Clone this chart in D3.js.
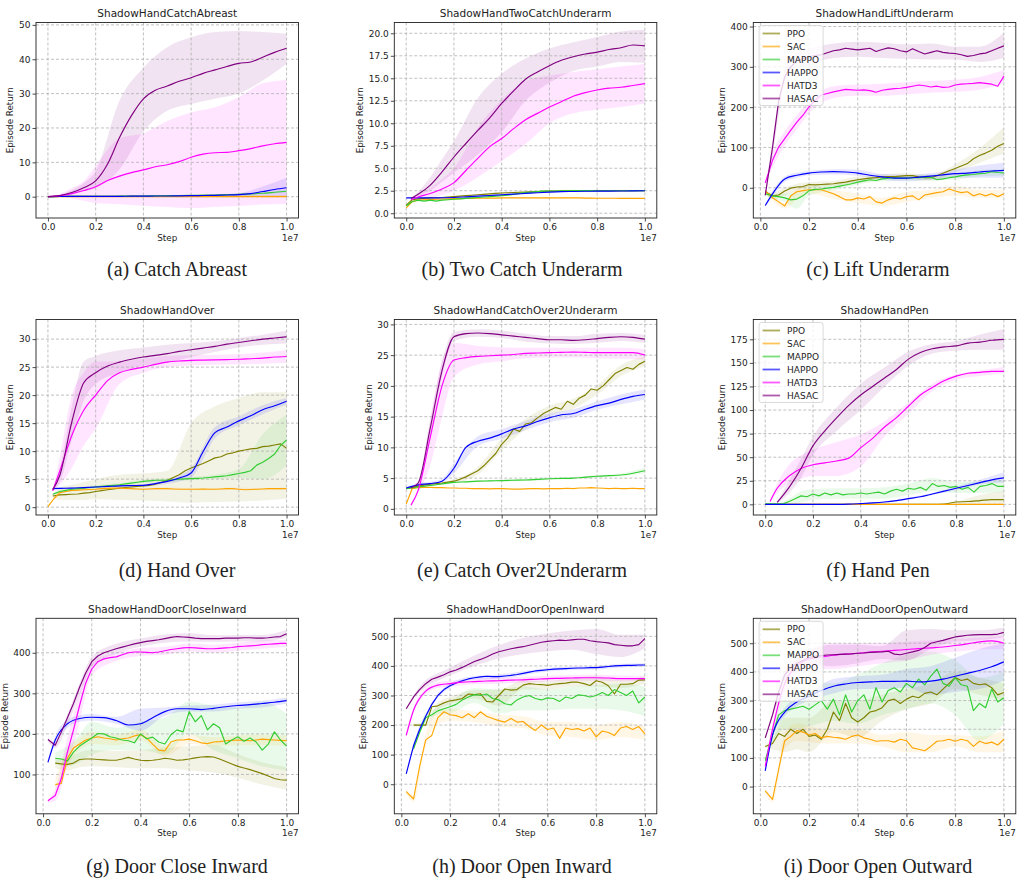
<!DOCTYPE html>
<html>
<head>
<meta charset="utf-8">
<script src="https://cdn.jsdelivr.net/npm/d3@7/dist/d3.min.js"></script>
<style>
  body { margin: 0; background: #fff; }
  svg { display: block; }
  text { font-family: "DejaVu Sans", sans-serif; fill: #222; }
</style>
</head>
<body>
<svg id="chart" width="1017" height="880"></svg>
<script>
// ---- step grids (units of 1e7 env steps) ----
const S21 = [0, 0.05, 0.1, 0.15, 0.2, 0.25, 0.3, 0.35, 0.4, 0.45, 0.5, 0.55, 0.6, 0.65, 0.7, 0.75, 0.8, 0.85, 0.9, 0.95, 1.0];
const T21 = [0.02, 0.05, 0.1, 0.15, 0.2, 0.25, 0.3, 0.35, 0.4, 0.45, 0.5, 0.55, 0.6, 0.65, 0.7, 0.75, 0.8, 0.85, 0.9, 0.95, 1.0];
const S41 = [0, 0.025, 0.05, 0.075, 0.1, 0.125, 0.15, 0.175, 0.2, 0.225, 0.25, 0.275, 0.3, 0.325, 0.35, 0.375, 0.4, 0.425, 0.45, 0.475, 0.5, 0.525, 0.55, 0.575, 0.6, 0.625, 0.65, 0.675, 0.7, 0.725, 0.75, 0.775, 0.8, 0.825, 0.85, 0.875, 0.9, 0.925, 0.95, 0.975, 1.0];
const T40 = [0.02, 0.05, 0.075, 0.1, 0.125, 0.15, 0.175, 0.2, 0.225, 0.25, 0.275, 0.3, 0.325, 0.35, 0.375, 0.4, 0.425, 0.45, 0.475, 0.5, 0.525, 0.55, 0.575, 0.6, 0.625, 0.65, 0.675, 0.7, 0.725, 0.75, 0.775, 0.8, 0.825, 0.85, 0.875, 0.9, 0.925, 0.95, 0.975, 1.0];
// band grids
const B13 = [0, 0.05, 0.1, 0.15, 0.2, 0.3, 0.4, 0.5, 0.6, 0.7, 0.8, 0.9, 1.0];
const TB13 = [0.02, 0.05, 0.1, 0.15, 0.2, 0.3, 0.4, 0.5, 0.6, 0.7, 0.8, 0.9, 1.0];

const algos = ['PPO', 'SAC', 'MAPPO', 'HAPPO', 'HATD3', 'HASAC'];
const xTicks = [0, 0.2, 0.4, 0.6, 0.8, 1.0];

// ---- (a) ShadowHandCatchAbreast ----
const yTicksA = [0, 10, 20, 30, 40, 50];
const a_PPO = [0, 0.1, 0.1, 0.1, 0.1, 0.1, 0.1, 0.1, 0.1, 0.1, 0.1, 0.1, 0.1, 0.1, 0.1, 0.1, 0.1, 0.1, 0.1, 0.1, 0.1];
const a_PPO_lo = [0, 0, 0, 0, 0, 0, 0, 0, 0, 0, 0, 0, 0];
const a_PPO_hi = [0.1, 0.2, 0.2, 0.2, 0.2, 0.2, 0.2, 0.2, 0.2, 0.2, 0.2, 0.2, 0.2];
const a_SAC = [0, 0, 0, 0, 0, 0, 0, 0, 0, 0, 0, 0, 0, 0, 0, 0, 0, 0, 0, 0, 0];
const a_MAPPO = [0, 0.1, 0.1, 0.1, 0.1, 0.1, 0.15, 0.2, 0.2, 0.25, 0.3, 0.35, 0.4, 0.45, 0.5, 0.6, 0.7, 0.8, 1.0, 1.3, 1.6];
const a_MAPPO_lo = [0, 0, 0, 0, 0, 0, 0, 0.1, 0.2, 0.3, 0.4, 0.7, 1.1];
const a_MAPPO_hi = [0.1, 0.2, 0.2, 0.2, 0.2, 0.3, 0.3, 0.4, 0.6, 0.7, 1.0, 1.3, 2.1];
const a_HAPPO = [0, 0.1, 0.1, 0.1, 0.1, 0.1, 0.1, 0.15, 0.15, 0.2, 0.2, 0.25, 0.3, 0.35, 0.4, 0.5, 0.6, 0.9, 1.5, 2.1, 2.6];
const a_HAPPO_lo = [0, 0, 0, 0, 0, 0, 0, 0.1, 0.2, 0.2, 0.3, 0.5, 0.5];
const a_HAPPO_hi = [0.1, 0.2, 0.2, 0.2, 0.2, 0.2, 0.3, 0.3, 0.4, 0.6, 1.0, 3.0, 5.5];
const a_HATD3 = [0, 0.3, 0.9, 1.8, 2.9, 4.7, 6.0, 7.0, 7.8, 8.7, 9.3, 10.2, 11.5, 12.4, 12.8, 12.9, 13.4, 14.0, 14.8, 15.4, 15.8];
const a_HATD3_lo = [0, 0, -0.5, -1.2, -1.8, -2.2, -2.6, -3.0, -3.3, -3.0, -2.7, -2.3, -2.1];
const a_HATD3_hi = [0, 0.8, 2.5, 4.5, 9, 17, 18.5, 22, 24.5, 26, 29, 33, 34];
const a_HASAC = [0, 0.3, 1.2, 2.6, 4.6, 9.5, 17.2, 23.6, 28.5, 31.0, 32.2, 33.6, 34.6, 35.9, 36.9, 37.9, 38.8, 39.2, 40.6, 42.0, 43.2];
const a_HASAC_lo = [0, 0.1, 0.6, 1.5, 2.5, 8, 19, 25, 27, 28.5, 30, 33.8, 38.7];
const a_HASAC_hi = [0, 0.6, 1.9, 4.0, 7.5, 28, 37.5, 43.5, 46.4, 47.9, 48.2, 47.9, 47.4];

// ---- (b) ShadowHandTwoCatchUnderarm ----
const yTicksB = [0, 2.5, 5, 7.5, 10, 12.5, 15, 17.5, 20];
const b_PPO = [0.9, 1.5, 1.6, 1.65, 1.7, 1.72, 1.75, 1.8, 1.85, 1.9, 1.95, 2.0, 2.05, 2.1, 2.15, 2.2, 2.25, 2.28, 2.3, 2.33, 2.35, 2.38, 2.4, 2.43, 2.45, 2.46, 2.47, 2.48, 2.5, 2.5, 2.5, 2.5, 2.5, 2.5, 2.5, 2.5, 2.5, 2.5, 2.5, 2.5, 2.5];
const b_PPO_lo = [0.85, 1.55, 1.62, 1.7, 1.78, 1.95, 2.15, 2.28, 2.38, 2.44, 2.44, 2.44, 2.44];
const b_PPO_hi = [0.95, 1.65, 1.78, 1.8, 1.92, 2.15, 2.35, 2.42, 2.52, 2.56, 2.56, 2.56, 2.56];
const b_SAC = [0.6, 1.3, 1.45, 1.5, 1.52, 1.55, 1.58, 1.6, 1.62, 1.63, 1.65, 1.65, 1.66, 1.67, 1.68, 1.68, 1.7, 1.7, 1.7, 1.7, 1.7, 1.7, 1.7, 1.7, 1.7, 1.7, 1.7, 1.7, 1.7, 1.7, 1.68, 1.68, 1.67, 1.67, 1.66, 1.66, 1.65, 1.65, 1.65, 1.65, 1.65];
const b_SAC_lo = [0.55, 1.4, 1.45, 1.5, 1.55, 1.6, 1.63, 1.65, 1.65, 1.65, 1.63, 1.61, 1.6];
const b_SAC_hi = [0.65, 1.6, 1.65, 1.7, 1.75, 1.75, 1.77, 1.75, 1.75, 1.75, 1.73, 1.71, 1.7];
const b_MAPPO = [0.8, 1.3, 1.45, 1.35, 1.45, 1.35, 1.45, 1.5, 1.55, 1.6, 1.65, 1.7, 1.75, 1.8, 1.85, 1.9, 1.95, 2.0, 2.1, 2.2, 2.3, 2.35, 2.4, 2.45, 2.45, 2.47, 2.5, 2.5, 2.52, 2.52, 2.52, 2.52, 2.5, 2.5, 2.5, 2.5, 2.5, 2.5, 2.5, 2.5, 2.5];
const b_MAPPO_lo = [0.75, 1.3, 1.3, 1.4, 1.5, 1.7, 1.9, 2.2, 2.4, 2.45, 2.45, 2.45, 2.45];
const b_MAPPO_hi = [0.85, 1.55, 1.55, 1.6, 1.7, 1.9, 2.1, 2.4, 2.55, 2.6, 2.6, 2.6, 2.6];
const b_HAPPO = [1.7, 1.7, 1.7, 1.72, 1.75, 1.82, 1.9, 1.97, 2.05, 2.12, 2.2, 2.28, 2.35, 2.4, 2.42, 2.44, 2.45, 2.46, 2.47, 2.48, 2.5];
const b_HATD3 = [1.5, 1.8, 2.2, 2.7, 3.4, 4.75, 6.1, 7.4, 8.3, 9.4, 10.4, 11.1, 11.8, 12.4, 13.0, 13.4, 13.7, 13.9, 14.0, 14.2, 14.4];
const b_HATD3_lo = [1.45, 1.6, 1.7, 2.0, 2.5, 4.0, 5.8, 7.7, 10, 11.1, 11.5, 11.8, 12.2];
const b_HATD3_hi = [1.55, 2.0, 2.8, 3.8, 5, 9.5, 12.6, 14.7, 15.3, 15.7, 16, 16.3, 16.6];
const b_HASAC = [1.65, 2.1, 3.1, 4.6, 6.25, 7.75, 9.2, 10.6, 12.2, 13.6, 14.9, 15.7, 16.4, 17.0, 17.4, 17.7, 17.9, 18.2, 18.4, 18.7, 18.6];
const b_HASAC_lo = [1.6, 1.9, 2.5, 3.5, 4.5, 6.5, 9, 12.5, 14.5, 15.8, 16.3, 16.8, 16.7];
const b_HASAC_hi = [1.7, 2.4, 4, 6, 8, 12.8, 15.5, 17.2, 18.3, 19, 19.6, 20.2, 20.4];

// ---- (c) ShadowHandLiftUnderarm ----
const yTicksC = [0, 100, 200, 300, 400];
const c_PPO = [-10, -20, -18, -8, -1, 2, 3, 8, 7, 8, 9, 10, 12, 14, 17, 20, 22, 24, 25, 27, 28, 28, 29, 30, 30, 27, 25, 25, 30, 36, 42, 48, 54, 60, 72, 80, 86, 93, 103, 110];
const c_PPO_lo = [-14, -28, -20, -8, 2, 3, 12, 20, 22, 18, 38, 62, 85];
const c_PPO_hi = [-6, -12, 0, 10, 14, 17, 28, 34, 36, 32, 58, 98, 150];
const c_SAC = [-8, -25, -35, -45, -20, -10, -7, -5, -5, -5, -10, -15, -22, -30, -30, -25, -28, -22, -35, -38, -30, -25, -28, -22, -20, -30, -18, -15, -12, -10, -3, -8, -12, -10, -20, -15, -20, -15, -22, -15];
const c_SAC_lo = [-12, -32, -52, -30, -15, -27, -38, -45, -35, -25, -20, -25, -25];
const c_SAC_hi = [-4, -18, -38, -2, 5, -5, -15, -25, -10, -5, 5, -5, -5];
const c_MAPPO = [-15, -20, -22, -25, -30, -28, -20, -7, -4, -3, -1, 1, 4, 7, 10, 14, 17, 20, 18, 22, 24, 25, 24, 24, 25, 25, 26, 26, 20, 22, 25, 27, 30, 32, 33, 35, 36, 40, 38, 37];
const c_MAPPO_lo = [-18, -28, -35, -52, -20, -6, 8, 16, 18, 18, 20, 28, 30];
const c_MAPPO_hi = [-12, -15, -15, -12, 5, 8, 20, 28, 30, 32, 34, 44, 46];
const c_HAPPO = [-44, -15, 22, 31, 36.5, 39, 40, 39, 36.5, 31, 27, 24, 24, 26.5, 29, 32, 35, 36.5, 39, 41.5, 43];
const c_HAPPO_lo = [-48, -22, 15, 25, 31, 33, 30, 20, 16, 20, 25, 25, 25];
const c_HAPPO_hi = [-40, -8, 28, 37, 42, 46, 45, 34, 32, 36, 45, 55, 62];
const c_HATD3 = [12, 68, 101, 122, 143, 163, 180, 201, 217, 230, 234, 238, 241, 244, 243, 242, 243, 241, 237, 242, 244, 246, 247, 249, 252, 255, 253, 250, 252, 249, 250, 255, 257, 258, 259, 261, 259, 257, 252, 277];
const c_HATD3_lo = [8, 50, 105, 145, 185, 222, 228, 228, 232, 236, 238, 243, 260];
const c_HATD3_hi = [16, 85, 140, 180, 215, 252, 256, 258, 262, 265, 268, 275, 292];
const c_HASAC = [-19, 100, 215, 275, 300, 315, 320, 325, 328, 330, 335, 340, 342, 346, 344, 342, 344, 346, 338, 343, 347, 345, 340, 337, 345, 338, 332, 336, 340, 336, 334, 333, 330, 326, 328, 332, 334, 340, 346, 352];
const c_HASAC_lo = [-25, 80, 255, 295, 305, 322, 325, 322, 320, 318, 318, 312, 322];
const c_HASAC_hi = [-12, 120, 295, 335, 345, 358, 362, 360, 356, 358, 350, 350, 385];

// ---- (d) ShadowHandOver ----
const yTicksD = [0, 5, 10, 15, 20, 25, 30];
const d_PPO = [2.0, 2.2, 2.25, 2.3, 2.35, 2.5, 2.6, 2.8, 2.95, 3.1, 3.25, 3.4, 3.5, 3.6, 3.7, 3.8, 3.9, 4.1, 4.4, 4.8, 5.3, 5.8, 6.5, 7.0, 7.4, 7.8, 8.3, 8.8, 9.0, 9.5, 9.7, 10.0, 10.2, 10.4, 10.5, 10.8, 10.9, 11.1, 11.3, 10.5];
const d_PPO_lo = [1.8, 1.3, 1.3, 1.3, 1.4, 1.3, 1.2, 1.0, 0.8, 0.9, 1.0, 1.2, 1.5];
const d_PPO_hi = [2.2, 3.5, 4.0, 4.5, 5.0, 5.8, 6.0, 6.5, 15, 18, 19.5, 20.5, 20.5];
const d_SAC = [0.1, 1.5, 2.6, 2.8, 3.0, 3.05, 3.1, 3.15, 3.2, 3.3, 3.35, 3.4, 3.4, 3.35, 3.3, 3.25, 3.2, 3.25, 3.3, 3.3, 3.3, 3.25, 3.2, 3.2, 3.2, 3.2, 3.25, 3.2, 3.2, 3.25, 3.3, 3.3, 3.2, 3.1, 3.15, 3.2, 3.25, 3.3, 3.3, 3.3, 3.3];
const d_SAC_lo = [0.1, 2.3, 2.8, 2.9, 3.0, 3.2, 3.0, 3.1, 3.0, 3.0, 3.1, 3.0, 3.1];
const d_SAC_hi = [0.1, 2.9, 3.2, 3.4, 3.4, 3.6, 3.4, 3.5, 3.4, 3.4, 3.5, 3.4, 3.5];
const d_MAPPO = [2.3, 2.8, 3.0, 3.2, 3.3, 3.4, 3.5, 3.6, 3.7, 3.8, 3.9, 4.0, 4.15, 4.3, 4.45, 4.6, 4.7, 4.8, 4.8, 4.8, 4.9, 5.0, 5.05, 5.1, 5.15, 5.2, 5.3, 5.4, 5.5, 5.6, 5.8, 6.0, 6.2, 6.5, 7.5, 8.0, 8.7, 9.5, 11.0, 12.0];
const d_MAPPO_lo = [2.2, 2.5, 2.9, 3.1, 3.3, 3.7, 4.3, 4.5, 4.8, 5.0, 5.2, 5.0, 7.5];
const d_MAPPO_hi = [2.4, 3.1, 3.5, 3.7, 3.9, 4.3, 4.9, 5.1, 5.4, 5.8, 6.8, 13, 16.5];
const d_HAPPO = [3.3, 3.35, 3.4, 3.5, 3.6, 3.7, 3.8, 3.85, 3.9, 4.2, 4.6, 5.2, 6.1, 9.9, 13.3, 14.3, 15.4, 16.3, 17.4, 18.1, 18.9];
const d_HAPPO_lo = [3.2, 3.2, 3.3, 3.4, 3.5, 3.6, 3.7, 4.2, 5.3, 12.3, 14.6, 16.6, 18.3];
const d_HAPPO_hi = [3.4, 3.5, 3.5, 3.6, 3.7, 4.0, 4.1, 5.0, 7.0, 14.3, 16.2, 18.2, 19.5];
const d_HATD3 = [2.9, 6.5, 12.8, 17.3, 20.0, 22.6, 24.0, 24.6, 25.0, 25.5, 25.9, 26.1, 26.2, 26.25, 26.3, 26.35, 26.4, 26.5, 26.6, 26.8, 26.9];
const d_HATD3_lo = [2.8, 4, 7, 11, 14, 22, 24, 25, 25.3, 25.4, 25.5, 25.6, 25.8];
const d_HATD3_hi = [3.0, 9, 20, 24, 26, 26, 26.5, 27, 27.1, 27.2, 27.3, 27.6, 28];
const d_HASAC = [3.1, 5.7, 15.2, 22.2, 24.0, 25.2, 25.9, 26.4, 26.8, 27.1, 27.4, 27.8, 28.1, 28.4, 28.7, 29.1, 29.4, 29.7, 30.0, 30.2, 30.4];
const d_HASAC_lo = [2.9, 4.5, 12, 19, 22, 24, 25.3, 25.8, 26.8, 27.7, 28.5, 29.0, 29.2];
const d_HASAC_hi = [3.3, 7, 18, 26, 27, 28, 28.5, 29, 29.3, 29.6, 30.2, 30.8, 31.5];

// ---- (e) ShadowHandCatchOver2Underarm ----
const yTicksE = [0, 5, 10, 15, 20, 25, 30];
const e_PPO = [3.3, 3.5, 3.7, 3.85, 4.0, 4.1, 4.2, 4.35, 4.5, 4.8, 5.2, 5.7, 6.2, 7.0, 8.0, 9.0, 10.5, 11.5, 13.0, 12.6, 13.8, 14.0, 14.8, 15.5, 16.0, 16.5, 16.2, 17.5, 17.0, 18.0, 18.5, 19.5, 19.3, 20.0, 21.0, 22.0, 22.5, 23.0, 22.7, 23.5, 24.0];
const e_PPO_lo = [3.2, 3.5, 3.8, 4.0, 4.2, 5.6, 9.5, 13.0, 15.2, 16.3, 18.6, 21.6, 23.2];
const e_PPO_hi = [3.4, 3.9, 4.2, 4.4, 4.8, 6.8, 11.5, 14.6, 16.8, 17.9, 20.1, 23.4, 24.8];
const e_SAC = [0.8, 3.3, 3.45, 3.5, 3.5, 3.45, 3.45, 3.4, 3.4, 3.35, 3.35, 3.3, 3.3, 3.3, 3.25, 3.3, 3.3, 3.25, 3.2, 3.2, 3.25, 3.3, 3.3, 3.25, 3.3, 3.3, 3.3, 3.35, 3.3, 3.4, 3.4, 3.45, 3.4, 3.35, 3.3, 3.35, 3.3, 3.3, 3.35, 3.3, 3.3];
const e_MAPPO = [3.3, 3.55, 3.8, 4.05, 4.3, 4.4, 4.5, 4.55, 4.6, 4.65, 4.7, 4.8, 4.9, 4.95, 5.0, 5.15, 5.3, 5.4, 5.5, 5.8, 6.2];
const e_MAPPO_lo = [3.2, 3.4, 3.7, 3.9, 4.15, 4.35, 4.45, 4.55, 4.7, 4.8, 5.1, 5.3, 5.8];
const e_MAPPO_hi = [3.4, 3.7, 3.95, 4.2, 4.45, 4.65, 4.75, 4.85, 5.1, 5.2, 5.5, 5.8, 6.7];
const e_HAPPO = [3.4, 3.9, 4.1, 4.5, 6.6, 10.0, 11.0, 11.5, 12.2, 13.0, 13.5, 14.2, 14.8, 15.3, 15.5, 16.2, 16.8, 17.2, 17.8, 18.3, 18.6];
const e_HAPPO_lo = [3.3, 3.6, 3.8, 4.2, 5.8, 10.2, 11.4, 12.8, 14.1, 14.8, 16.1, 17.0, 17.8];
const e_HAPPO_hi = [3.5, 4.2, 4.4, 4.9, 7.4, 11.8, 13.0, 14.3, 15.5, 16.2, 17.5, 18.6, 19.4];
const e_HATD3 = [0.6, 3.0, 11.5, 20, 24.2, 24.6, 24.8, 24.9, 25.0, 25.1, 25.3, 25.35, 25.4, 25.45, 25.5, 25.45, 25.4, 25.4, 25.4, 25.4, 25.0];
const e_HATD3_lo = [0.5, 2.5, 7, 15, 21.5, 23.5, 24, 24.5, 24.6, 24.6, 24.5, 24.4, 24.3];
const e_HATD3_hi = [0.7, 3.5, 14, 24, 27, 26.5, 26.3, 26.2, 26.2, 26.2, 26.2, 26.2, 26.0];
const e_HASAC = [3.4, 4.2, 13, 22.5, 28, 28.5, 28.6, 28.5, 28.3, 28.1, 27.9, 27.7, 27.5, 27.5, 27.4, 27.5, 27.7, 27.9, 28.0, 27.9, 27.6];
const e_HASAC_lo = [3.3, 3.9, 11.5, 21.5, 27.3, 28.0, 27.8, 27.2, 26.9, 26.8, 27.0, 27.3, 27.0];
const e_HASAC_hi = [3.5, 4.5, 14.5, 24, 28.8, 29.2, 29.0, 28.5, 28.1, 28.1, 28.5, 28.6, 28.3];

// ---- (f) ShadowHandPen ----
const yTicksF = [0, 25, 50, 75, 100, 125, 150, 175];
const f_PPO = [0, 0, 0, 0, 0, 0, 0, 0, 0, 0, 0, 0, 0, 0, 0, 0.2, 2.5, 3, 4, 5, 5];
const f_PPO_lo = [0, 0, 0, 0, 0, 0, 0, 0, 0, 0, 0, 0, 0];
const f_PPO_hi = [0, 0, 0, 0, 0, 0, 0, 0, 0, 0, 3, 10, 14];
const f_SAC = [0, 0, 0, 0, 0, 0, 0, 0, 0, 0, 0, 0, 0, 0, 0, 0, 0, 0, 0, 0, 0];
const f_MAPPO = [0.5, 0.5, 0.5, 0.5, 3, 6, 9, 8, 11, 9, 12, 10, 12, 10, 11, 11, 12, 11, 12, 13, 11, 14, 16, 14, 17, 16, 18, 15, 22, 19, 20, 18, 19, 16, 18, 13, 19, 20, 22, 19, 19];
const f_MAPPO_lo = [0, 0, 0, 2, 5, 6, 6, 6, 10, 14, 12, 12, 13];
const f_MAPPO_hi = [1, 1, 6, 14, 16, 17, 17, 18, 22, 28, 24, 24, 26];
const f_HAPPO = [0, 0, 0, 0, 0, 0, 0, 0.2, 0.8, 1.5, 2.5, 4, 6, 8, 11, 14, 17, 20, 23, 26, 28];
const f_HAPPO_lo = [0, 0, 0, 0, 0, 0, 0, 2, 5, 10, 15, 21, 23];
const f_HAPPO_hi = [0, 0, 0, 0, 0, 0, 1, 3, 7, 12, 19, 26, 34];
const f_HATD3 = [3, 17, 30, 38, 42, 44, 46, 49, 60, 70, 82, 92, 104, 116, 124, 131, 136, 139, 140, 141, 141];
const f_HATD3_lo = [2, 12, 22, 27, 30, 30, 40, 72, 96, 120, 132, 136, 139];
const f_HATD3_hi = [4, 22, 42, 52, 58, 66, 74, 88, 108, 128, 138, 142, 146];
const f_HASAC = [null, 2, 18, 38, 62, 78, 92, 105, 116, 125, 134, 143, 154, 161, 165, 167, 168, 171, 172, 174, 175];
const f_HASAC_lo = [null, 1, 12, 28, 52, 78, 100, 125, 147, 160, 163, 164, 164];
const f_HASAC_hi = [null, 3, 25, 48, 72, 103, 128, 145, 162, 170, 173, 180, 186];

// ---- (g) ShadowHandDoorCloseInward ----
const yTicksG = [100, 200, 300, 400];
const g_PPO = [null, 128, 126, 125, 128, 137, 138, 138, 137, 136, 135, 135, 138, 142, 138, 135, 134, 135, 137, 140, 138, 135, 136, 138, 141, 143, 144, 143, 138, 132, 126, 120, 116, 112, 107, 102, 96, 90, 87, 86];
const g_PPO_lo = [null, 115, 110, 118, 120, 118, 115, 115, 110, 105, 92, 75, 62];
const g_PPO_hi = [null, 140, 140, 155, 160, 158, 160, 165, 170, 172, 150, 130, 118];
const g_SAC = [null, 75, 78, 140, 165, 175, 185, 190, 193, 190, 188, 185, 188, 190, 195, 198, 190, 175, 160, 158, 180, 185, 185, 187, 183, 178, 176, 180, 181, 183, 184, 185, 184, 183, 185, 187, 186, 185, 184, 183];
const g_SAC_lo = [null, 60, 120, 160, 175, 172, 185, 145, 175, 170, 172, 172, 170];
const g_SAC_hi = [null, 90, 160, 190, 205, 198, 210, 170, 198, 192, 196, 198, 196];
const g_MAPPO = [null, 140, 138, 133, 155, 170, 180, 190, 201, 200, 193, 190, 185, 183, 178, 200, 188, 192, 180, 175, 198, 210, 205, 255, 230, 245, 210, 225, 215, 175, 185, 193, 182, 190, 180, 160, 175, 205, 185, 170];
const g_MAPPO_lo = [null, 125, 120, 130, 150, 160, 160, 150, 200, 160, 140, 120, 110];
const g_MAPPO_hi = [null, 155, 170, 200, 230, 215, 230, 240, 280, 270, 265, 280, 250];
const g_HAPPO = [130, 185, 225, 238, 241, 240, 233, 222, 225, 240, 255, 262, 262, 260, 263, 267, 270, 272, 275, 278, 282];
const g_HAPPO_lo = [125, 175, 215, 230, 233, 225, 208, 245, 255, 255, 262, 265, 275];
const g_HAPPO_hi = [135, 195, 235, 246, 249, 242, 262, 265, 270, 272, 278, 282, 290];
const g_HATD3 = [35, 48, 90, 155, 210, 270, 325, 360, 378, 385, 388, 390, 395, 400, 402, 402, 401, 400, 402, 405, 408, 410, 412, 413, 412, 411, 410, 410, 411, 412, 413, 415, 416, 417, 418, 420, 421, 422, 423, 423];
const g_HATD3_lo = [30, 35, 120, 230, 345, 380, 392, 395, 403, 400, 405, 410, 415];
const g_HATD3_hi = [40, 65, 190, 300, 378, 400, 412, 415, 423, 420, 425, 430, 432];
const g_HASAC = [186, 172, 205, 240, 275, 315, 350, 378, 392, 400, 405, 410, 414, 418, 422, 425, 428, 430, 432, 435, 438, 440, 439, 438, 436, 435, 435, 435, 435, 436, 436, 436, 437, 437, 436, 436, 437, 439, 440, 447];
const g_HASAC_lo = [180, 165, 222, 295, 365, 398, 415, 425, 428, 427, 428, 428, 437];
const g_HASAC_hi = [192, 180, 248, 325, 390, 422, 435, 445, 448, 443, 444, 444, 457];

// ---- (h) ShadowHandDoorOpenInward ----
const yTicksH = [0, 100, 200, 300, 400, 500];
const h_PPO = [null, 200, 200, 200, 262, 265, 275, 282, 285, 290, 305, 303, 306, 280, 278, 300, 322, 318, 320, 335, 340, 338, 337, 334, 338, 340, 342, 345, 345, 340, 334, 350, 345, 333, 305, 338, 338, 340, 352, 353];
const h_PPO_lo = [null, 195, 195, 250, 270, 290, 265, 320, 320, 330, 330, 325, 340];
const h_PPO_hi = [null, 205, 205, 275, 295, 318, 320, 350, 348, 360, 365, 352, 365];
const h_SAC = [-25, -50, 60, 150, 165, 225, 245, 235, 232, 225, 238, 225, 245, 230, 222, 215, 210, 222, 210, 212, 195, 182, 200, 185, 190, 155, 190, 185, 188, 180, 190, 160, 180, 175, 165, 190, 195, 185, 195, 170];
const h_SAC_lo = [-35, -60, 130, 205, 215, 210, 195, 190, 165, 160, 150, 160, 150];
const h_SAC_hi = [-15, -40, 170, 245, 255, 245, 235, 230, 210, 210, 200, 210, 195];
const h_MAPPO = [null, 120, 175, 225, 235, 248, 255, 262, 270, 285, 295, 303, 300, 305, 290, 285, 272, 268, 285, 295, 300, 290, 285, 292, 290, 280, 295, 290, 302, 300, 295, 300, 310, 300, 320, 310, 300, 315, 275, 295];
const h_MAPPO_lo = [null, 110, 210, 235, 240, 275, 240, 250, 250, 255, 255, 250, 230];
const h_MAPPO_hi = [null, 130, 240, 260, 280, 325, 320, 330, 320, 330, 335, 340, 330];
const h_HAPPO = [35, 130, 185, 230, 270, 300, 320, 333, 342, 350, 356, 360, 363, 365, 364, 364, 366, 368, 371, 375, 379, 383, 385, 387, 389, 390, 391, 392, 393, 393, 394, 394, 396, 398, 400, 401, 402, 402, 403, 403];
const h_HAPPO_lo = [30, 120, 222, 292, 326, 354, 357, 368, 381, 386, 388, 395, 397];
const h_HAPPO_hi = [40, 140, 238, 308, 340, 366, 371, 382, 393, 398, 400, 407, 409];
const h_HATD3 = [165, 250, 315, 335, 340, 345, 347, 349, 350, 352, 353, 355, 357, 358, 359, 360, 360, 359, 357, 357, 357];
const h_HATD3_lo = [155, 240, 305, 325, 330, 338, 340, 343, 347, 349, 350, 348, 348];
const h_HATD3_hi = [175, 260, 325, 345, 350, 356, 360, 363, 367, 369, 370, 368, 366];
const h_HASAC = [255, 295, 320, 340, 355, 362, 370, 380, 386, 395, 405, 415, 422, 430, 440, 448, 453, 458, 462, 465, 470, 475, 480, 483, 485, 487, 486, 488, 490, 490, 485, 482, 480, 478, 472, 470, 468, 468, 472, 492];
const h_HASAC_lo = [250, 288, 328, 350, 368, 400, 425, 440, 450, 455, 440, 430, 460];
const h_HASAC_hi = [260, 302, 352, 375, 395, 435, 470, 495, 510, 520, 525, 505, 505];

// ---- (i) ShadowHandDoorOpenOutward ----
const yTicksI = [0, 100, 200, 300, 400, 500];
const i_PPO = [140, 150, 185, 175, 200, 185, 200, 175, 180, 165, 200, 260, 230, 290, 240, 225, 240, 260, 265, 275, 300, 305, 290, 305, 315, 310, 325, 330, 320, 340, 360, 380, 370, 375, 360, 355, 358, 345, 320, 328];
const i_PPO_lo = [135, 130, 120, 130, 120, 190, 170, 230, 270, 290, 340, 320, 300];
const i_PPO_hi = [145, 170, 240, 240, 240, 300, 300, 320, 340, 360, 400, 380, 360];
const i_SAC = [-15, -45, 60, 160, 175, 195, 190, 180, 185, 170, 175, 172, 170, 165, 175, 180, 170, 165, 158, 160, 160, 155, 165, 160, 135, 130, 125, 140, 158, 160, 165, 158, 165, 160, 140, 158, 150, 155, 145, 165];
const i_SAC_lo = [-25, -55, 130, 160, 155, 150, 150, 140, 120, 120, 140, 120, 120];
const i_SAC_hi = [-5, -35, 190, 220, 210, 195, 200, 180, 190, 180, 180, 175, 195];
const i_MAPPO = [90, 180, 250, 265, 270, 275, 280, 270, 285, 300, 270, 305, 250, 320, 260, 300, 320, 270, 345, 295, 335, 345, 330, 360, 345, 375, 355, 385, 410, 360, 350, 380, 355, 350, 265, 290, 275, 340, 295, 310];
const i_MAPPO_lo = [85, 150, 200, 200, 210, 230, 220, 250, 270, 290, 250, 160, 220];
const i_MAPPO_hi = [95, 210, 310, 330, 360, 360, 390, 430, 460, 470, 440, 380, 400];
const i_HAPPO = [55, 180, 260, 295, 315, 335, 350, 358, 363, 365, 367, 367, 368, 365, 368, 375, 385, 395, 405, 418, 435];
const i_HAPPO_lo = [50, 170, 245, 280, 300, 325, 340, 340, 345, 320, 330, 340, 370];
const i_HAPPO_hi = [60, 190, 275, 310, 330, 375, 385, 390, 410, 420, 450, 480, 500];
const i_HATD3 = [70, 200, 360, 420, 445, 452, 458, 462, 465, 469, 472, 475, 478, 481, 484, 487, 492, 498, 505, 508, 500];
const i_HATD3_lo = [65, 180, 330, 395, 410, 410, 420, 430, 440, 460, 470, 478, 480];
const i_HATD3_hi = [75, 220, 390, 445, 480, 500, 500, 500, 505, 510, 515, 520, 525];
const i_HASAC = [170, 250, 330, 390, 415, 430, 440, 450, 454, 457, 459, 460, 461, 462, 463, 465, 466, 468, 469, 470, 472, 462, 460, 465, 470, 475, 485, 500, 505, 510, 516, 522, 525, 528, 529, 530, 530, 530, 532, 538];
const i_HASAC_lo = [165, 240, 370, 410, 425, 420, 430, 445, 440, 480, 505, 510, 520];
const i_HASAC_hi = [175, 260, 410, 450, 475, 495, 495, 490, 545, 550, 545, 545, 555];

// ---- styling ----
const colors = { PPO: '#808000', SAC: '#ffa500', MAPPO: '#32cd32', HAPPO: '#0000ff', HATD3: '#ff00ff', HASAC: '#800080' };

// series entries: [name, steps, values, bandSteps, lo, hi]
const panels = [
  { title: 'ShadowHandCatchAbreast', caption: '(a) Catch Abreast', yDomain: [-6.2, 50.7], yTicks: yTicksA, fmt: 'd',
    series: [['PPO', S21, a_PPO, B13, a_PPO_lo, a_PPO_hi], ['SAC', S21, a_SAC], ['MAPPO', S21, a_MAPPO, B13, a_MAPPO_lo, a_MAPPO_hi],
             ['HAPPO', S21, a_HAPPO, B13, a_HAPPO_lo, a_HAPPO_hi], ['HATD3', S21, a_HATD3, B13, a_HATD3_lo, a_HATD3_hi], ['HASAC', S21, a_HASAC, B13, a_HASAC_lo, a_HASAC_hi]] },
  { title: 'ShadowHandTwoCatchUnderarm', caption: '(b) Two Catch Underarm', yDomain: [-0.53, 21.2], yTicks: yTicksB, fmt: '.1f',
    series: [['PPO', S41, b_PPO, B13, b_PPO_lo, b_PPO_hi], ['SAC', S41, b_SAC, B13, b_SAC_lo, b_SAC_hi], ['MAPPO', S41, b_MAPPO, B13, b_MAPPO_lo, b_MAPPO_hi],
             ['HAPPO', S21, b_HAPPO], ['HATD3', T21, b_HATD3, TB13, b_HATD3_lo, b_HATD3_hi], ['HASAC', T21, b_HASAC, TB13, b_HASAC_lo, b_HASAC_hi]] },
  { title: 'ShadowHandLiftUnderarm', caption: '(c) Lift Underarm', yDomain: [-75, 410], yTicks: yTicksC, fmt: 'd', legend: true,
    series: [['PPO', T40, c_PPO, TB13, c_PPO_lo, c_PPO_hi], ['SAC', T40, c_SAC, TB13, c_SAC_lo, c_SAC_hi], ['MAPPO', T40, c_MAPPO, TB13, c_MAPPO_lo, c_MAPPO_hi],
             ['HAPPO', T21, c_HAPPO, TB13, c_HAPPO_lo, c_HAPPO_hi], ['HATD3', T40, c_HATD3, TB13, c_HATD3_lo, c_HATD3_hi], ['HASAC', T40, c_HASAC, TB13, c_HASAC_lo, c_HASAC_hi]] },
  { title: 'ShadowHandOver', caption: '(d) Hand Over', yDomain: [-1.4, 33.5], yTicks: yTicksD, fmt: 'd',
    series: [['PPO', T40, d_PPO, TB13, d_PPO_lo, d_PPO_hi], ['SAC', S41, d_SAC, B13, d_SAC_lo, d_SAC_hi], ['MAPPO', T40, d_MAPPO, TB13, d_MAPPO_lo, d_MAPPO_hi],
             ['HAPPO', T21, d_HAPPO, TB13, d_HAPPO_lo, d_HAPPO_hi], ['HATD3', T21, d_HATD3, TB13, d_HATD3_lo, d_HATD3_hi], ['HASAC', T21, d_HASAC, TB13, d_HASAC_lo, d_HASAC_hi]] },
  { title: 'ShadowHandCatchOver2Underarm', caption: '(e) Catch Over2Underarm', yDomain: [-1.0, 30.8], yTicks: yTicksE, fmt: 'd',
    series: [['PPO', S41, e_PPO, B13, e_PPO_lo, e_PPO_hi], ['SAC', S41, e_SAC], ['MAPPO', S21, e_MAPPO, B13, e_MAPPO_lo, e_MAPPO_hi],
             ['HAPPO', S21, e_HAPPO, B13, e_HAPPO_lo, e_HAPPO_hi], ['HATD3', T21, e_HATD3, TB13, e_HATD3_lo, e_HATD3_hi], ['HASAC', T21, e_HASAC, TB13, e_HASAC_lo, e_HASAC_hi]] },
  { title: 'ShadowHandPen', caption: '(f) Hand Pen', yDomain: [-11.3, 196], yTicks: yTicksF, fmt: 'd', legend: true,
    series: [['PPO', S21, f_PPO, B13, f_PPO_lo, f_PPO_hi], ['SAC', S21, f_SAC], ['MAPPO', S41, f_MAPPO, B13, f_MAPPO_lo, f_MAPPO_hi],
             ['HAPPO', S21, f_HAPPO, B13, f_HAPPO_lo, f_HAPPO_hi], ['HATD3', T21, f_HATD3, TB13, f_HATD3_lo, f_HATD3_hi], ['HASAC', S21, f_HASAC, B13, f_HASAC_lo, f_HASAC_hi]] },
  { title: 'ShadowHandDoorCloseInward', caption: '(g) Door Close Inward', yDomain: [3, 485], yTicks: yTicksG, fmt: 'd',
    series: [['PPO', T40, g_PPO, TB13, g_PPO_lo, g_PPO_hi], ['SAC', T40, g_SAC, TB13, g_SAC_lo, g_SAC_hi], ['MAPPO', T40, g_MAPPO, TB13, g_MAPPO_lo, g_MAPPO_hi],
             ['HAPPO', T21, g_HAPPO, TB13, g_HAPPO_lo, g_HAPPO_hi], ['HATD3', T40, g_HATD3, TB13, g_HATD3_lo, g_HATD3_hi], ['HASAC', T40, g_HASAC, TB13, g_HASAC_lo, g_HASAC_hi]] },
  { title: 'ShadowHandDoorOpenInward', caption: '(h) Door Open Inward', yDomain: [-100, 561], yTicks: yTicksH, fmt: 'd',
    series: [['PPO', T40, h_PPO, TB13, h_PPO_lo, h_PPO_hi], ['SAC', T40, h_SAC, TB13, h_SAC_lo, h_SAC_hi], ['MAPPO', T40, h_MAPPO, TB13, h_MAPPO_lo, h_MAPPO_hi],
             ['HAPPO', T40, h_HAPPO, TB13, h_HAPPO_lo, h_HAPPO_hi], ['HATD3', T21, h_HATD3, TB13, h_HATD3_lo, h_HATD3_hi], ['HASAC', T40, h_HASAC, TB13, h_HASAC_lo, h_HASAC_hi]] },
  { title: 'ShadowHandDoorOpenOutward', caption: '(i) Door Open Outward', yDomain: [-95, 587], yTicks: yTicksI, fmt: 'd', legend: true,
    series: [['PPO', T40, i_PPO, TB13, i_PPO_lo, i_PPO_hi], ['SAC', T40, i_SAC, TB13, i_SAC_lo, i_SAC_hi], ['MAPPO', T40, i_MAPPO, TB13, i_MAPPO_lo, i_MAPPO_hi],
             ['HAPPO', T21, i_HAPPO, TB13, i_HAPPO_lo, i_HAPPO_hi], ['HATD3', T21, i_HATD3, TB13, i_HATD3_lo, i_HATD3_hi], ['HASAC', T40, i_HASAC, TB13, i_HASAC_lo, i_HASAC_hi]] }
];

// ---- layout ----
const colLeft = [36, 394.3, 753.3];
const rowTop = [22.5, 319.5, 618.3];
const axW = 262.5, axH = 195.5;
const capX = [177, 522, 878];
const capY = [276, 577, 873];
const tickFont = 9;

const svg = d3.select('#chart');
svg.append('rect').attr('width', 1017).attr('height', 880).attr('fill', '#fff');

function zip(xs, ys) {
  const n = Math.min(xs.length, ys.length), out = [];
  for (let i = 0; i < n; i++) out.push([xs[i], ys[i]]);
  return out;
}
function zip3(xs, lo, hi) {
  const n = Math.min(xs.length, lo.length, hi.length), out = [];
  for (let i = 0; i < n; i++) out.push([xs[i], lo[i], hi[i]]);
  return out;
}

panels.forEach((p, idx) => {
  const col = idx % 3, row = Math.floor(idx / 3);
  const left = colLeft[col], top = rowTop[row];

  // x limits like matplotlib: data span plus 5% margins
  let x0 = Infinity;
  p.series.forEach(s => zip(s[1], s[2]).forEach(d => { if (d[1] != null && d[0] < x0) x0 = d[0]; }));
  const span = 1 - x0;
  const x = d3.scaleLinear().domain([x0 - 0.05 * span, 1 + 0.05 * span]).range([0, axW]);
  const y = d3.scaleLinear().domain(p.yDomain).range([axH, 0]);

  const g = svg.append('g').attr('transform', `translate(${left},${top})`);
  const clipId = 'clip' + idx;
  g.append('clipPath').attr('id', clipId).append('rect').attr('width', axW).attr('height', axH);
  const plot = g.append('g').attr('clip-path', `url(#${clipId})`);

  // bands
  p.series.forEach(s => {
    if (!s[3]) return;
    const area = d3.area()
      .defined(d => d[1] != null && d[2] != null)
      .x(d => x(d[0])).y0(d => y(d[1])).y1(d => y(d[2]))
      .curve(d3.curveMonotoneX);
    plot.append('path')
      .attr('d', area(zip3(s[3], s[4], s[5])))
      .attr('fill', colors[s[0]])
      .attr('fill-opacity', s[0] === 'HASAC' ? 0.11 : 0.1);
  });

  // grid
  const grid = plot.append('g').attr('stroke', '#b0b0b0').attr('stroke-width', 0.8).attr('stroke-dasharray', '3,2');
  xTicks.forEach(t => grid.append('line').attr('x1', x(t)).attr('x2', x(t)).attr('y1', 0).attr('y2', axH));
  p.yTicks.forEach(t => grid.append('line').attr('x1', 0).attr('x2', axW).attr('y1', y(t)).attr('y2', y(t)));

  // mean lines
  p.series.forEach(s => {
    const pts = zip(s[1], s[2]);
    const line = d3.line()
      .defined(d => d[1] != null)
      .x(d => x(d[0])).y(d => y(d[1]))
      .curve(pts.length > 30 ? d3.curveLinear : d3.curveMonotoneX);
    plot.append('path')
      .attr('d', line(pts))
      .attr('fill', 'none')
      .attr('stroke', colors[s[0]])
      .attr('stroke-width', 1.15)
      .attr('stroke-linejoin', 'round');
  });

  // axes
  const xAxis = g.append('g').attr('transform', `translate(0,${axH})`)
    .call(d3.axisBottom(x).tickValues(xTicks).tickFormat(d3.format('.1f')).tickSize(3.5).tickPadding(2));
  const yAxis = g.append('g')
    .call(d3.axisLeft(y).tickValues(p.yTicks).tickFormat(d3.format(p.fmt)).tickSize(3.5).tickPadding(2));
  [xAxis, yAxis].forEach(a => {
    a.select('.domain').remove();
    a.selectAll('line').attr('stroke', '#222').attr('stroke-width', 0.8);
    a.selectAll('text').style('font-size', tickFont + 'px').style('font-family', '"DejaVu Sans", sans-serif').attr('fill', '#222');
  });

  // frame
  g.append('rect').attr('width', axW).attr('height', axH)
    .attr('fill', 'none').attr('stroke', '#222').attr('stroke-width', 0.9);

  // labels
  g.append('text').attr('x', axW / 2).attr('y', -5.5).attr('text-anchor', 'middle')
    .style('font-size', '10.5px').text(p.title);
  g.append('text').attr('x', axW / 2).attr('y', axH + 22.5).attr('text-anchor', 'middle')
    .style('font-size', '8.75px').text('Step');
  g.append('text').attr('x', axW).attr('y', axH + 22.5).attr('text-anchor', 'end')
    .style('font-size', '8.75px').text('1e7');

  let maxW = 0;
  yAxis.selectAll('text').each(function () { maxW = Math.max(maxW, this.getComputedTextLength()); });
  const labX = -5.5 - maxW - 3.5 - 2.1;
  g.append('text').attr('transform', `translate(${labX},${axH / 2}) rotate(-90)`)
    .attr('text-anchor', 'middle').style('font-size', '8.75px').text('Episode Return');

  // legend
  if (p.legend) {
    const lg = g.append('g').attr('transform', 'translate(5.8,3)');
    lg.append('rect').attr('width', 64).attr('height', 80).attr('rx', 2.5)
      .attr('fill', '#fff').attr('fill-opacity', 0.8).attr('stroke', '#d0d0d0').attr('stroke-width', 0.8);
    algos.forEach((name, k) => {
      const yy = 8 + k * 13;
      lg.append('line').attr('x1', 3.5).attr('x2', 21).attr('y1', yy).attr('y2', yy)
        .attr('stroke', colors[name]).attr('stroke-width', 1.8).attr('stroke-opacity', 0.65);
      lg.append('text').attr('x', 28).attr('y', yy).attr('dy', '0.35em')
        .style('font-size', tickFont + 'px').text(name);
    });
  }

  // caption
  svg.append('text').attr('x', capX[col]).attr('y', capY[row]).attr('text-anchor', 'middle')
    .style('font-family', '"Liberation Serif", "Times New Roman", serif').style('font-size', '20px')
    .attr('fill', '#000').text(p.caption);
});
</script>
</body>
</html>
